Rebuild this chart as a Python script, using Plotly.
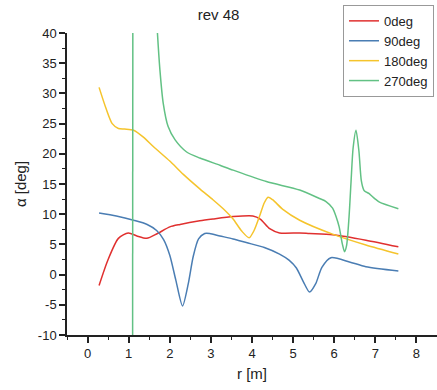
import plotly.graph_objects as go

r_0 = [0.28, 0.5, 0.75, 0.99, 1.2, 1.44, 1.7, 2.0, 2.25, 2.73, 3.05, 3.54, 4.02, 4.2, 4.43, 4.67, 5.16, 5.4, 5.96, 6.77, 7.56]
a_0 = [-1.8, 2.5, 6.0, 6.9, 6.4, 6.0, 6.8, 7.9, 8.3, 8.9, 9.2, 9.6, 9.7, 9.2, 7.6, 6.9, 6.9, 6.8, 6.6, 5.7, 4.6]

r_90 = [0.28, 0.7, 1.12, 1.45, 1.68, 1.85, 2.0, 2.15, 2.31, 2.45, 2.57, 2.7, 2.85, 2.97, 3.22, 3.54, 3.86, 4.3, 4.67, 4.9, 5.08, 5.25, 5.4, 5.55, 5.7, 5.92, 6.37, 6.77, 7.56]
a_90 = [10.2, 9.7, 9.0, 8.3, 7.3, 5.8, 3.2, -1.0, -5.2, -1.5, 3.0, 5.9, 6.8, 6.8, 6.4, 5.9, 5.3, 4.5, 3.4, 2.4, 1.1, -1.2, -2.9, -1.5, 1.2, 2.8, 2.1, 1.3, 0.6]

r_180 = [0.28, 0.45, 0.6, 0.75, 0.9, 1.12, 1.35, 1.6, 2.0, 2.33, 2.73, 3.05, 3.3, 3.54, 3.75, 3.93, 4.05, 4.19, 4.3, 4.39, 4.5, 4.75, 5.16, 5.96, 6.77, 7.56]
a_180 = [31.0, 27.5, 25.0, 24.2, 24.1, 23.9, 22.8, 21.2, 18.8, 16.6, 14.2, 12.4, 10.9, 9.2, 7.2, 6.1, 7.3, 9.8, 11.9, 12.8, 12.4, 10.8, 9.0, 6.7, 4.9, 3.4]

r_270 = [1.09, 1.11, None, 1.685, 1.70, 1.76, 1.84, 1.96, 2.13, 2.41, 2.73, 3.22, 3.54, 4.35, 5.16, 5.64, 5.8, 5.96, 6.05, 6.12, 6.2, 6.25, 6.3, 6.36, 6.41, 6.46, 6.53, 6.6, 6.66, 6.72, 6.77, 6.85, 6.9, 7.0, 7.1, 7.56]
a_270 = [-60.0, 120.0, None, 42.0, 40.0, 33.9, 28.4, 24.5, 22.3, 20.3, 19.3, 18.1, 17.3, 15.4, 14.0, 12.6, 12.1, 11.0, 9.5, 7.9, 5.0, 3.8, 4.8, 9.5, 15.5, 21.0, 23.9, 20.5, 15.5, 14.0, 13.7, 13.4, 13.1, 12.5, 12.0, 10.9]

names = ["0deg", "90deg", "180deg", "270deg"]
colors = ["#e0302f", "#4a7db3", "#f5c42c", "#62c184"]

y_ticks = list(range(-10, 41, 5))
y_ticktext = [str(v) for v in y_ticks]
x_ticks = list(range(0, 9))

fig = go.Figure()
for name, xs, ys, c in zip(names, [r_0, r_90, r_180, r_270], [a_0, a_90, a_180, a_270], colors):
    fig.add_trace(go.Scatter(x=xs, y=ys, name=name, mode="lines",
                             line=dict(color=c, width=1.5, shape="spline", smoothing=0.7),
                             connectgaps=False))

font_fam = "Liberation Sans, Arial"
axis_common = dict(showline=True, linecolor="#222", linewidth=1.5, ticks="outside",
                   tickcolor="#222", tickwidth=1.5, ticklen=6, showgrid=False, zeroline=False,
                   tickfont=dict(family=font_fam, size=13, color="#222"))

fig.update_layout(
    width=437, height=390,
    margin=dict(l=67, r=0, t=33, b=55),
    paper_bgcolor="white", plot_bgcolor="white",
    title=dict(text="rev 48", x=0.5, xanchor="center", y=0.962, yanchor="middle",
               font=dict(family=font_fam, size=15, color="#222")),
    xaxis=dict(range=[-0.5, 8.5], tickvals=x_ticks, ticktext=[str(v) for v in x_ticks],
               title=dict(text="r [m]", font=dict(family=font_fam, size=15, color="#222"), standoff=8),
               minor=dict(ticks="outside", ticklen=3, tickwidth=1.2, tickcolor="#222", dtick=0.5, tick0=0),
               **axis_common),
    yaxis=dict(range=[-10, 40], tickvals=y_ticks, ticktext=y_ticktext,
               title=dict(text="α [deg]", font=dict(family=font_fam, size=15, color="#222"), standoff=8),
               minor=dict(ticks="outside", ticklen=3, tickwidth=1.2, tickcolor="#222", dtick=2.5, tick0=0),
               **axis_common),
    legend=dict(x=0.746, y=1.093, xanchor="left", yanchor="top", bgcolor="white",
                bordercolor="#999", borderwidth=1, itemwidth=30, tracegroupgap=0,
                font=dict(family=font_fam, size=13, color="#222")),
    showlegend=True,
)

fig.write_html("out.html")
